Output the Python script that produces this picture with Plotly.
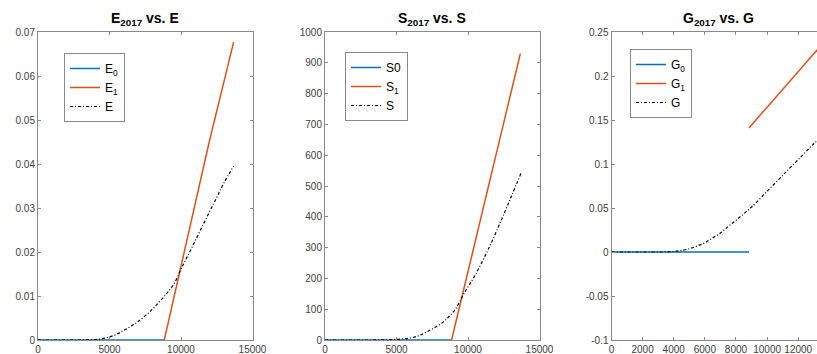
import plotly.graph_objects as go

# ---------------- data ----------------
# Panel 1: E
E0_x = [0, 8830]
E0_y = [0, 0]
E1_x = [8830, 9880, 12000, 13680]
E1_y = [0, 0.0151, 0.0454, 0.0677]
E_x = [0, 1000, 2000, 3000, 4000, 4500, 5000, 5500, 6000, 6500, 7000, 7500, 8000,
       8500, 9000, 9500, 10000, 10500, 11000, 11500, 12000, 12500, 13000, 13680]
E_y = [0, 0, 0, 0, 0.0001, 0.0003, 0.0007, 0.0013, 0.0022, 0.0031, 0.0042, 0.0055, 0.0070,
       0.0087, 0.0106, 0.0127, 0.0161, 0.0193, 0.0226, 0.0259, 0.0292, 0.0324, 0.0357, 0.0395]

# Panel 2: S
S0_x = [0, 8850]
S0_y = [0, 0]
S1_x = [8850, 13660]
S1_y = [0, 930]
S_x = [0, 1000, 2000, 3000, 4000, 4500, 5000, 5500, 5815, 6500, 6978, 7500, 8143,
       8600, 9070, 9770, 10467, 11395, 12326, 13024, 13700]
S_y = [0, 0, 0, 0, 0.3, 1, 2, 4, 5, 13, 23, 36, 54,
       73, 97, 155, 208, 292, 389, 465, 541]

# Panel 3: G
G0_x = [0, 8836]
G0_y = [0, 0]
G1_x = [8836, 13700]
G1_y = [0.141, 0.2395]
G_x = [0, 1000, 2000, 3000, 3500, 4000, 4500, 5000, 5500, 6000, 6500, 7000, 7500, 8000,
       8500, 9000, 10000, 11000, 11270, 12000, 13000, 13700]
G_y = [0, 0, 0, 0, 0.0001, 0.0006, 0.0018, 0.0037, 0.0068, 0.0105, 0.016, 0.0216, 0.029, 0.036,
       0.0435, 0.051, 0.069, 0.087, 0.092, 0.105, 0.123, 0.134]

titles = ["<b>E<sub>2017</sub> vs. E</b>", "<b>S<sub>2017</sub> vs. S</b>", "<b>G<sub>2017</sub> vs. G</b>"]
names = [["E<sub>0</sub>", "E<sub>1</sub>", "E"],
         ["S0", "S<sub>1</sub>", "S"],
         ["G<sub>0</sub>", "G<sub>1</sub>", "G"]]

x_ticks_12 = [0, 5000, 10000, 15000]
x_ticks_3 = [0, 2000, 4000, 6000, 8000, 10000, 12000]
y_ticks_1 = [0, 0.01, 0.02, 0.03, 0.04, 0.05, 0.06, 0.07]
y_ticks_2 = [0, 100, 200, 300, 400, 500, 600, 700, 800, 900, 1000]
y_ticks_3 = [-0.1, -0.05, 0, 0.05, 0.1, 0.15, 0.2, 0.25]
y_ticktext_3 = ["-0.1", "-0.05", "0", "0.05", "0.1", "0.15", "0.2", "0.25"]

BLUE = "#0072BD"
ORANGE = "#D95319"
FONT = "Liberation Sans, Arial, sans-serif"

fig = go.Figure()

panels = [
    (E0_x, E0_y, E1_x, E1_y, E_x, E_y),
    (S0_x, S0_y, S1_x, S1_y, S_x, S_y),
    (G0_x, G0_y, G1_x, G1_y, G_x, G_y),
]
for i, (x0, y0, x1, y1, x, y) in enumerate(panels):
    ax = "" if i == 0 else str(i + 1)
    leg = "legend" if i == 0 else "legend" + str(i + 1)
    fig.add_trace(go.Scatter(x=x0, y=y0, mode="lines", name=names[i][0],
                             line=dict(color=BLUE, width=1.5),
                             xaxis="x" + ax, yaxis="y" + ax, legend=leg))
    fig.add_trace(go.Scatter(x=x1, y=y1, mode="lines", name=names[i][1],
                             line=dict(color=ORANGE, width=1.5),
                             xaxis="x" + ax, yaxis="y" + ax, legend=leg))
    fig.add_trace(go.Scatter(x=x, y=y, mode="lines", name=names[i][2],
                             line=dict(color="black", width=1.2, dash="3px,2px,1px,2px", shape="spline"),
                             xaxis="x" + ax, yaxis="y" + ax, legend=leg))

L, R, T, B = 38, 0, 32, 14
W, H = 817, 354
pw = W - L - R
def px2paper(p):
    return (p - L) / pw
def dom(a, b):
    return [px2paper(a), px2paper(b)]

doms = [dom(38, 252.5), dom(325, 539.5), dom(611.5, 817)]
title_centers = [145, 432, 718]

axis_common = dict(showline=True, linecolor="#8a8a8a", linewidth=1, ticks="inside", ticklen=3,
                   tickcolor="#8a8a8a", showgrid=False, zeroline=False, automargin=False,
                   tickfont=dict(family=FONT, size=10, color="#404040"))

layout = dict(
    width=W, height=H, margin=dict(l=L, r=R, t=T, b=B),
    plot_bgcolor="white", paper_bgcolor="white", showlegend=True,
    font=dict(family=FONT),
)
layout["xaxis"] = dict(axis_common, domain=doms[0], range=[0, 15000], tickvals=x_ticks_12,
                       tickformat="d", mirror="ticks", anchor="y")
layout["yaxis"] = dict(axis_common, domain=[0, 1], range=[0, 0.07], tickvals=y_ticks_1,
                       mirror="ticks", anchor="x")
layout["xaxis2"] = dict(axis_common, domain=doms[1], range=[0, 15000], tickvals=x_ticks_12,
                        tickformat="d", mirror="ticks", anchor="y2")
layout["yaxis2"] = dict(axis_common, domain=[0, 1], range=[0, 1000], tickvals=y_ticks_2,
                        tickformat="d", mirror="ticks", anchor="x2")
layout["xaxis3"] = dict(axis_common, domain=doms[2], range=[0, 13207], tickvals=x_ticks_3,
                        tickformat="d", mirror="ticks", anchor="y3")
layout["yaxis3"] = dict(axis_common, domain=[0, 1], range=[-0.1, 0.25], tickvals=y_ticks_3,
                        ticktext=y_ticktext_3, mirror=False, anchor="x3")

leg_common = dict(bgcolor="white", bordercolor="#8a8a8a", borderwidth=1,
                  font=dict(family=FONT, size=12, color="black"),
                  xanchor="left", yanchor="top", tracegroupgap=0, itemwidth=30)
leg_pos = [(64, 53), (345, 52), (630, 49)]
for i, (lx, ly) in enumerate(leg_pos):
    key = "legend" if i == 0 else "legend" + str(i + 1)
    layout[key] = dict(leg_common, x=px2paper(lx), y=(H - B - ly) / (H - T - B))

annotations = []
for i, t in enumerate(titles):
    annotations.append(dict(text=t, x=px2paper(title_centers[i]), y=1, xref="paper", yref="paper",
                            xanchor="center", yanchor="bottom", yshift=2, showarrow=False,
                            font=dict(family=FONT, size=14, color="black")))
layout["annotations"] = annotations

fig.update_layout(**layout)
fig.write_html("out.html")
